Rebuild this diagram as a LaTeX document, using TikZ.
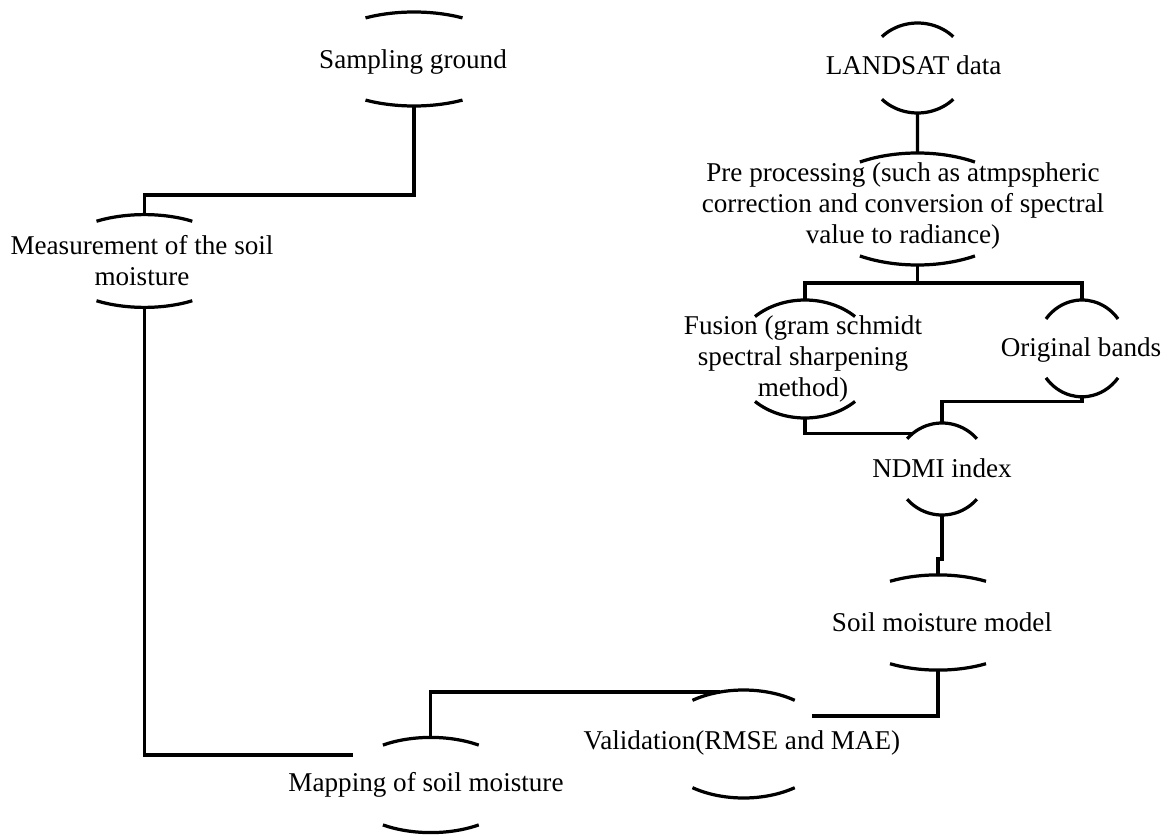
\documentclass[tikz,border=0pt]{standalone}
\usepackage{fontspec}
\setmainfont{Liberation Serif}
\usetikzlibrary{calc}

\tikzset{
	box/.style={font=\fontsize{19.3pt}{22pt}\selectfont, align=center, inner sep=0pt},
	capline/.style={line width=2.3pt},
	link/.style={line width=2.3pt}
}

% top and bottom arcs round a node: name, dx, dy, x radius, y radius, half angle
\newcommand{\nodecaps}[6]{%
	\coordinate (#1-c) at ([shift={(#2,#3)}]#1.center);
	\coordinate (#1-t) at ([yshift=#5cm]#1-c);
	\coordinate (#1-b) at ([yshift=-#5cm]#1-c);
	\draw[capline] ([shift={(90-#6:#4 and #5)}]#1-c) arc[start angle=90-#6, end angle=90+#6, x radius=#4, y radius=#5];
	\draw[capline] ([shift={(270-#6:#4 and #5)}]#1-c) arc[start angle=270-#6, end angle=270+#6, x radius=#4, y radius=#5];
}

\begin{document}
\begin{tikzpicture}
	\useasboundingbox (0,0) rectangle (29.15,-20.875);
		\node[box] (sg) at (10.325,-1.55) {Sampling ground};
		\node[box] (ms) at (3.55,-6.525) {Measurement of the soil\\moisture};
		\node[box] (la) at (22.84,-1.625) {LANDSAT data};
		\node[box] (pp) at (22.575,-5.15) {Pre processing (such as atmpspheric\\correction and conversion of spectral\\value to radiance)};
		\node[box] (fu) at (20.075,-8.975) {Fusion (gram schmidt\\spectral sharpening\\method)};
		\node[box] (ob) at (27.025,-8.75) {Original bands};
		\node[box] (nd) at (23.55,-11.7) {NDMI index};
		\node[box] (sm) at (23.55,-15.55) {Soil moisture model};
		\node[box] (va) at (18.55,-18.575) {Validation(RMSE and MAE)};
		\node[box] (mp) at (10.65,-19.625) {Mapping of soil moisture};

		\nodecaps{sg}{0.025}{0.075}{2.5}{1.175}{29}
		\nodecaps{ms}{0.06}{0}{2.325}{1.16}{31}
		\nodecaps{la}{0.1}{-0.075}{1.24}{1.125}{46}
		\nodecaps{pp}{0.36}{-0.075}{2.64}{1.4}{33}
		\nodecaps{fu}{0.05}{0}{1.8}{1.475}{44}
		\nodecaps{ob}{0.025}{0.04}{1.135}{1.21}{52.5}
		\nodecaps{nd}{0}{-0.025}{1.155}{1.15}{49}
		\nodecaps{sm}{-0.1}{-0.0125}{2.4}{1.19}{30}
		\nodecaps{va}{0.04}{-0.025}{2.175}{1.35}{36}
		\nodecaps{mp}{0.12}{0}{2.2}{1.19}{33}

		\coordinate (pp-split) at ([yshift=-0.45cm]pp-b);
		\coordinate (nd-in) at ([shift={(130:1.155 and 1.15)}]nd-c);
		\coordinate (va-in) at ([shift={(106:2.175 and 1.35)}]va-c);
		\coordinate (va-out) at ([shift={(1.75,0.675)}]va.center);
		\coordinate (mp-in) at ([shift={(-1.825,0.75)}]mp.center);

		\draw[link] (sg-b) -- ++(0,-2.225) -| (ms-t);% ground to measurement
		\draw[link] (ms-b) |- (mp-in);
		\draw[link] (mp-t) |- (va-in);
		\draw[link] (sm-b) |- (va-out);
		\draw[link] (la-b) -- (pp-t);
		\draw[link] (pp-b) -- (pp-split);
		\draw[link] (fu-t) |- (pp-split) -| (ob-t);
		\draw[link] (fu-b) |- (nd-in);
		\draw[link] (ob-b) -- ++(0,-0.125) -| (nd-t);
		\draw[link] (nd-b) |- ([yshift=0.4cm]sm-t) -- (sm-t);
\end{tikzpicture}
\end{document}
